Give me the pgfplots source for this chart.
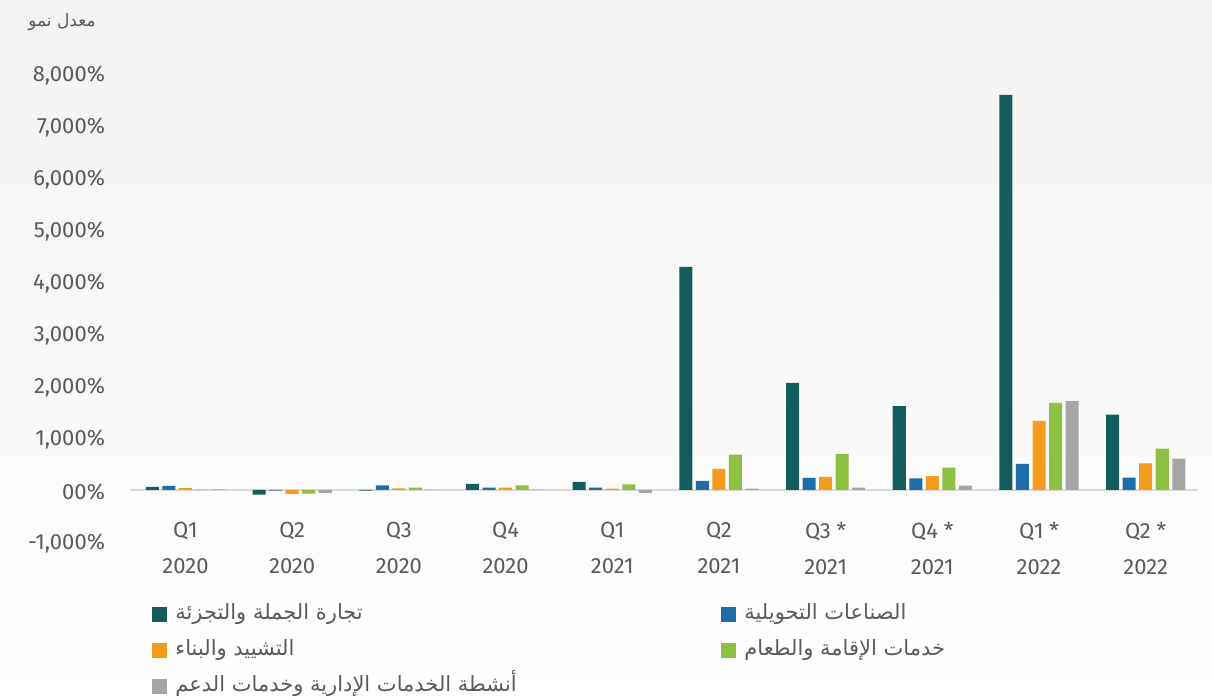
\documentclass[border=0pt]{standalone}
\usepackage{pgfplots}
\pgfplotsset{compat=1.18}
\usepackage{fontspec}
\setmainfont{Fira Sans}
\newfontfamily\arabicfont[Script=Arabic]{DejaVu Sans}
\TeXXeTstate=1
\definecolor{cA}{HTML}{155D5C}
\definecolor{cB}{HTML}{1F6DA8}
\definecolor{cC}{HTML}{F39C1D}
\definecolor{cD}{HTML}{8CC142}
\definecolor{cE}{HTML}{A5A5A5}
\definecolor{txt}{HTML}{5A5A5A}
\definecolor{zero}{HTML}{D9D9D9}
\definecolor{bgtop}{HTML}{F2F2F2}
\begin{document}
\begin{tikzpicture}
\useasboundingbox (0,0) rectangle (606pt,350pt);
\shade[top color=bgtop, bottom color=white] (0,0) rectangle (606pt,350pt);
\node[text=txt, font=\arabicfont\fontsize{8.5}{10}\selectfont] at (31pt,339pt) {\beginR معدل نمو\endR};
\begin{axis}[
  scale only axis, width=534pt, height=234pt, at={(65pt,79pt)}, anchor=south west,
  xmin=-0.52, xmax=9.49, ymin=-1000, ymax=8000,
  axis x line*=middle, axis y line*=left,
  x axis line style={draw=zero, line width=1pt},
  y axis line style={draw=none},
  hide obscured x ticks=false, hide obscured y ticks=false,
  major tick length=0pt, tick style={draw=none},
  xtick={0,...,9},
  xticklabels={{Q1\\2020},{Q2\\2020},{Q3\\2020},{Q4\\2020},{Q1\\2021},{Q2\\2021},{Q3 *\\2021},{Q4 *\\2021},{Q1 *\\2022},{Q2 *\\2022}},
  ytick={-1000,0,1000,2000,3000,4000,5000,6000,7000,8000},
  yticklabels={{-1,000\%},{00\%},{1,000\%},{2,000\%},{3,000\%},{4,000\%},{5,000\%},{6,000\%},{7,000\%},{8,000\%}},
  ticklabel style={text=txt, font=\fontsize{11}{18}\selectfont},
  xticklabel style={align=center, yshift=-12.5pt},
  yticklabel style={xshift=-9pt, yshift=-1pt},
  bar width=0.122,
  clip=false,
  legend columns=2,
  legend image code/.code={\fill[#1] (0pt,-3.75pt) rectangle (7.5pt,3.75pt);},
  legend style={at={(0.0206,-0.13)}, anchor=north west, draw=none, fill=none, inner sep=0pt,
    row sep=7pt, /tikz/column sep=0pt,
    nodes={inner sep=0pt, text=txt, text height=8pt, text depth=3pt, font=\arabicfont\fontsize{10.5}{12}\selectfont}},
]
\addplot[ybar, bar shift=-0.31, fill=cA, draw=none] coordinates {(0,58) (1,-90) (2,-10) (3,120) (4,155) (5,4290) (6,2060) (7,1615) (8,7600) (9,1448)};
\addlegendentry{\makebox[277pt][l]{\hspace*{4pt}\beginR تجارة الجملة والتجزئة\endR}}
\addplot[ybar, bar shift=-0.155, fill=cB, draw=none] coordinates {(0,77) (1,-10) (2,90) (3,45) (4,45) (5,175) (6,232) (7,223) (8,500) (9,237)};
\addlegendentry{\makebox[200pt][l]{\hspace*{4pt}\beginR الصناعات التحويلية\endR}}
\addplot[ybar, bar shift=0, fill=cC, draw=none] coordinates {(0,35) (1,-75) (2,30) (3,45) (4,25) (5,405) (6,250) (7,269) (8,1327) (9,512)};
\addlegendentry{\makebox[277pt][l]{\hspace*{4pt}\beginR التشييد والبناء\endR}}
\addplot[ybar, bar shift=0.155, fill=cD, draw=none] coordinates {(0,5) (1,-70) (2,45) (3,90) (4,108) (5,680) (6,692) (7,429) (8,1673) (9,794)};
\addlegendentry{\makebox[200pt][l]{\hspace*{4pt}\beginR خدمات الإقامة والطعام\endR}}
\addplot[ybar, bar shift=0.31, fill=cE, draw=none] coordinates {(0,10) (1,-55) (2,5) (3,5) (4,-55) (5,25) (6,45) (7,83) (8,1712) (9,602)};
\addlegendentry{\makebox[277pt][l]{\hspace*{4pt}\beginR أنشطة الخدمات الإدارية وخدمات الدعم\endR}}
\end{axis}
\end{tikzpicture}
\end{document}
